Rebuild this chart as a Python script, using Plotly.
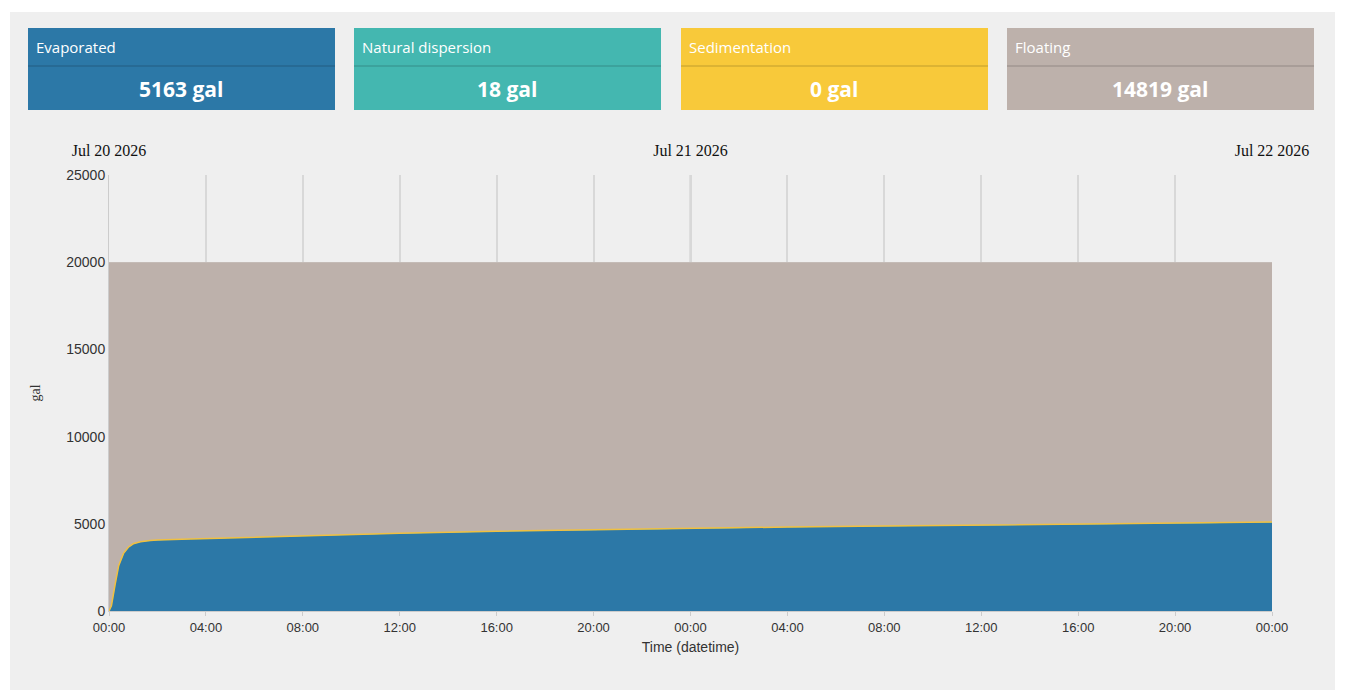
import pandas as pd
import plotly.graph_objects as go

# data
hours = [0, 0.1, 0.25, 0.4, 0.6, 0.8, 1.0, 1.3, 1.7, 2, 3, 4, 6, 8, 12, 16, 20, 24, 28, 32, 36, 40, 44, 48]
evaporated = [0, 300, 1500, 2600, 3300, 3650, 3850, 3970, 4030, 4060, 4110, 4150, 4240, 4320, 4450, 4560, 4650, 4730, 4800, 4860, 4920, 4980, 5030, 5080]
dispersion = [0, 1, 2, 3, 4, 5, 5, 6, 6, 7, 8, 8, 9, 10, 11, 12, 13, 14, 15, 15, 16, 17, 17, 18]
sedimentation = [0] * len(hours)
total = 20000
floating = [total - e - d for e, d in zip(evaporated, dispersion)]

cards = ["Evaporated", "Natural dispersion", "Sedimentation", "Floating"]
card_values = ["5163 gal", "18 gal", "0 gal", "14819 gal"]
card_colors = ["#2c78a7", "#44b7b0", "#f8c93a", "#bdb1ab"]
day_ticks = ["2026-07-20", "2026-07-21", "2026-07-22"]
day_labels = ["Jul 20 2026", "Jul 21 2026", "Jul 22 2026"]

start = pd.Timestamp("2026-07-20")
times = [start + pd.Timedelta(hours=h) for h in hours]

# page body adds an 8px offset
OFF = 8
W, H = 1346 - 2 * OFF, 699 - 2 * OFF
L, R, T, B = 109 - OFF, 1272 - OFF, 175 - OFF, 611 - OFF

fig = go.Figure()
fig.add_trace(go.Scatter(x=times, y=evaporated, stackgroup="s", name="Evaporated",
                         line=dict(color="#2c78a7", width=0.5), fillcolor="#2c78a7"))
fig.add_trace(go.Scatter(x=times, y=dispersion, stackgroup="s", name="Natural dispersion",
                         line=dict(color="#44b7b0", width=0.5), fillcolor="#44b7b0"))
fig.add_trace(go.Scatter(x=times, y=sedimentation, stackgroup="s", name="Sedimentation",
                         line=dict(color="#f0c040", width=1.5), fillcolor="#f8c93a"))
fig.add_trace(go.Scatter(x=times, y=floating, stackgroup="s", name="Floating",
                         line=dict(color="#bdb1ab", width=0), fillcolor="#bdb1ab"))
# dummy trace to show top axis
fig.add_trace(go.Scatter(x=[times[0], times[-1]], y=[None, None], xaxis="x2", showlegend=False))


def px(x):
    return (x - OFF - L) / (R - L)


def py(y):
    return (B - (y - OFF)) / (B - T)


shapes = [dict(type="rect", xref="paper", yref="paper", x0=px(10), x1=px(1335), y0=py(690), y1=py(12),
               fillcolor="#efefef", line=dict(width=0), layer="below")]
annotations = []
card_x = [28, 354, 681, 1007]
for cx, name, val, col in zip(card_x, cards, card_values, card_colors):
    shapes.append(dict(type="rect", xref="paper", yref="paper", x0=px(cx), x1=px(cx + 307),
                       y0=py(110), y1=py(28), fillcolor=col, line=dict(width=0), layer="below"))
    shapes.append(dict(type="line", xref="paper", yref="paper", x0=px(cx), x1=px(cx + 307),
                       y0=py(66), y1=py(66), line=dict(color="rgba(0,0,0,0.15)", width=1.5)))
    annotations.append(dict(xref="paper", yref="paper", x=px(cx + 6), y=py(47), text=name, showarrow=False,
                            xanchor="left", yanchor="middle",
                            font=dict(family="Open Sans", size=15, color="white")))
    annotations.append(dict(xref="paper", yref="paper", x=px(cx + 153), y=py(89), text="<b>" + val + "</b>",
                            showarrow=False, xanchor="center", yanchor="middle",
                            font=dict(family="Open Sans", size=21, color="white")))
shapes.append(dict(type="line", xref="x", yref="paper", x0="2026-07-21", x1="2026-07-21", y0=0, y1=1,
                   line=dict(color="#aaaaaa", width=1.5), layer="below"))

fig.update_layout(
    width=W, height=H,
    margin=dict(l=L, r=W - R, t=T, b=H - B),
    paper_bgcolor="white", plot_bgcolor="#efefef",
    showlegend=False,
    font=dict(family="Arial", size=13, color="#333333"),
    shapes=shapes, annotations=annotations,
    xaxis=dict(range=[times[0], times[-1]], dtick=4 * 3600 * 1000, tickformat="%H:%M",
               showgrid=True, gridcolor="#d8d8d8", gridwidth=1.5, ticks="outside", ticklen=4,
               tickcolor="#cccccc", showline=True, linecolor="#cccccc",
               title=dict(text="Time (datetime)", standoff=8, font=dict(size=14))),
    xaxis2=dict(overlaying="x", side="top", range=[times[0], times[-1]],
                tickvals=day_ticks, ticktext=day_labels, showgrid=False,
                ticks="outside", ticklen=12, tickcolor="rgba(0,0,0,0)",
                tickfont=dict(family="Liberation Serif", size=16, color="#111111")),
    yaxis=dict(range=[0, 25000], tickvals=[0, 5000, 10000, 15000, 20000, 25000], tickformat="d",
               showgrid=True, gridcolor="#d8d8d8", zeroline=False, showline=True, linecolor="#cccccc",
               tickfont=dict(size=14),
               title=dict(text="gal", font=dict(family="Liberation Serif", size=14), standoff=22)),
)

fig.write_html("out.html")
